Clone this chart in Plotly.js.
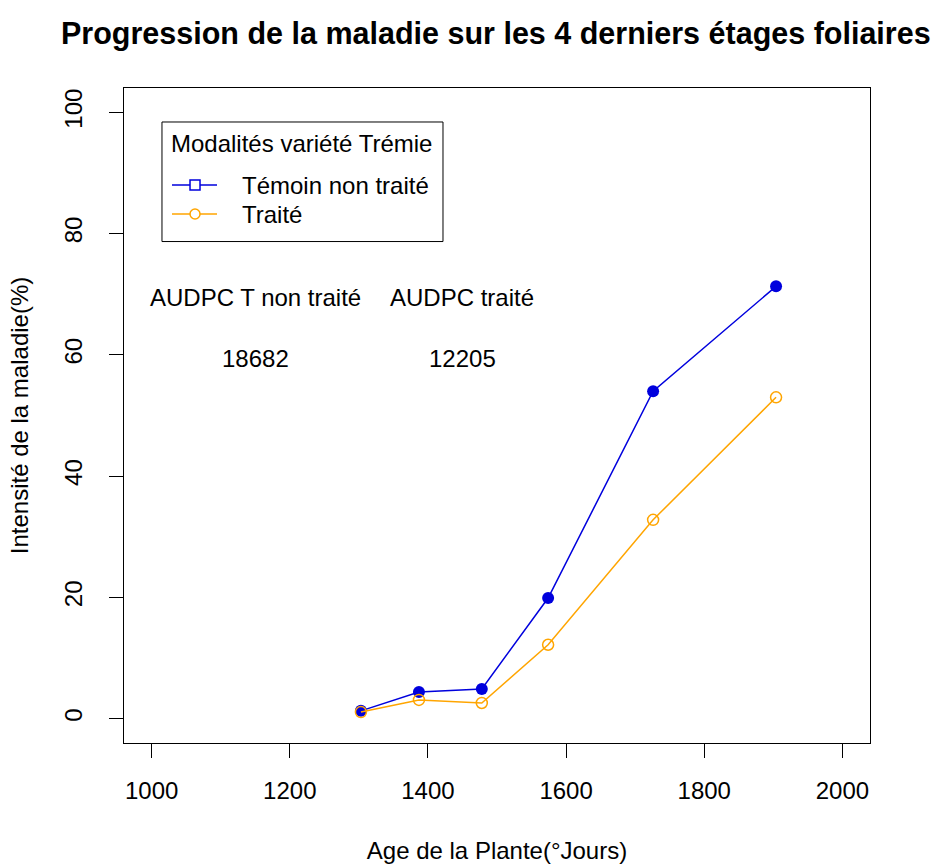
<!DOCTYPE html>
<html>
<head>
<meta charset="utf-8">
<script src="https://cdn.plot.ly/plotly-3.0.1.min.js"></script>
<style>html,body{margin:0;padding:0;background:#fff}#chart{width:932px;height:864px}</style>
</head>
<body>
<div id="chart"></div>
<script>
// Data
var ages = [1303, 1387, 1478, 1574, 1726, 1904];
var temoinNonTraite = [1.3, 4.4, 4.9, 19.9, 54.0, 71.3];
var traite = [1.1, 3.1, 2.6, 12.2, 32.8, 53.0];
var seriesNames = ["Témoin non traité", "Traité"];
var legendTitle = "Modalités variété Trémie";
var audpcLabels = ["AUDPC T non traité", "AUDPC traité"];
var audpcValues = ["18682", "12205"];
var xTicks = [1000, 1200, 1400, 1600, 1800, 2000];
var yTicks = [0, 20, 40, 60, 80, 100];

var FONT = "Liberation Sans, Arial, Helvetica, sans-serif";
var BLUE = "#0000DD";
var ORANGE = "#FFA500";
var seriesColors = [BLUE, ORANGE];

var traces = [
  {x: ages, y: temoinNonTraite, mode: "lines+markers", name: seriesNames[0], showlegend: false,
   line: {color: BLUE, width: 1.5}, marker: {symbol: "circle", size: 12, color: BLUE}},
  {x: ages, y: traite, mode: "lines+markers", name: seriesNames[1], showlegend: false,
   line: {color: ORANGE, width: 1.5},
   marker: {symbol: "circle-open", size: 11, color: ORANGE, line: {width: 1.5, color: ORANGE}}}
];

var annX = [1150, 1450];
var annotations = [];
for (var i = 0; i < 2; i++) {
  annotations.push({x: annX[i], y: 69.4, xref: "x", yref: "y", text: audpcLabels[i], showarrow: false,
    font: {family: FONT, size: 24, color: "#000"}, xanchor: "center", yanchor: "middle"});
  annotations.push({x: annX[i], y: 59.4, xref: "x", yref: "y", text: audpcValues[i], showarrow: false,
    font: {family: FONT, size: 24, color: "#000"}, xanchor: "center", yanchor: "middle"});
}

// Legend (R-style box legend) in paper coordinates
var lg = {x0: 0.0509, x1: 0.4276, y0: 0.7656, y1: 0.9481,
  titleX: 0.0609, titleY: 0.916, itemY: [0.8519, 0.8076],
  lineX0: 0.0643, lineX1: 0.1247, markX: 0.0952, textX: 0.1555};
var shapes = [
  {type: "rect", xref: "paper", yref: "paper", x0: lg.x0, x1: lg.x1, y0: lg.y0, y1: lg.y1,
   line: {color: "#000", width: 1}, fillcolor: "rgba(0,0,0,0)"}
];
annotations.push({xref: "paper", yref: "paper", x: lg.titleX, y: lg.titleY, text: legendTitle,
  showarrow: false, xanchor: "left", yanchor: "middle", font: {family: FONT, size: 24, color: "#000"}});
for (var j = 0; j < 2; j++) {
  shapes.push({type: "line", xref: "paper", yref: "paper", x0: lg.lineX0, x1: lg.lineX1,
    y0: lg.itemY[j], y1: lg.itemY[j], line: {color: seriesColors[j], width: 1.5}});
  shapes.push({type: j === 0 ? "rect" : "circle", xref: "paper", yref: "paper",
    xsizemode: "pixel", ysizemode: "pixel", xanchor: lg.markX, yanchor: lg.itemY[j],
    x0: -5, x1: 5, y0: -5, y1: 5, fillcolor: "#fff", line: {color: seriesColors[j], width: 1.5}});
  annotations.push({xref: "paper", yref: "paper", x: lg.textX, y: lg.itemY[j], text: seriesNames[j],
    showarrow: false, xanchor: "left", yanchor: "middle", font: {family: FONT, size: 24, color: "#000"}});
}

var layout = {
  width: 932, height: 864,
  paper_bgcolor: "#fff", plot_bgcolor: "#fff",
  margin: {l: 124, r: 62, t: 88, b: 121},
  font: {family: FONT, size: 24, color: "#000"},
  title: {text: "<b>Progression de la maladie sur les 4 derniers étages foliaires</b>",
    font: {family: FONT, size: 30.5, color: "#000"}, x: 0.532, xanchor: "center", y: 0.9618, yanchor: "middle"},
  xaxis: {range: [960, 2040], tickvals: xTicks, ticktext: xTicks.map(String),
    showgrid: false, zeroline: false, showline: true, mirror: true, linecolor: "#000", linewidth: 1,
    ticks: "outside", ticklen: 14, tickwidth: 1, tickcolor: "#000", ticklabelstandoff: 12,
    tickfont: {family: FONT, size: 24},
    title: {text: "Age de la Plante(°Jours)", font: {family: FONT, size: 24}, standoff: 40}},
  yaxis: {range: [-4, 104], tickvals: yTicks, ticktext: yTicks.map(String), tickangle: -90,
    showgrid: false, zeroline: false, showline: true, mirror: true, linecolor: "#000", linewidth: 1,
    ticks: "outside", ticklen: 14, tickwidth: 1, tickcolor: "#000", ticklabelstandoff: 17,
    tickfont: {family: FONT, size: 24},
    title: {text: "Intensité de la maladie(%)", font: {family: FONT, size: 24}, standoff: 25}},
  showlegend: false,
  shapes: shapes,
  annotations: annotations
};

Plotly.newPlot("chart", traces, layout, {displayModeBar: false, staticPlot: true});
</script>
</body>
</html>
